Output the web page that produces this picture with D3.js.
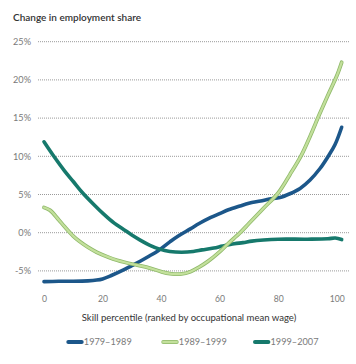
<!DOCTYPE html>
<html>
<head>
<meta charset="utf-8">
<script src="https://cdn.jsdelivr.net/npm/d3@7"></script>
<style>
  html, body { margin: 0; padding: 0; background: #fff; }
  svg { display: block; }
  text { font-family: Lato, "Open Sans", sans-serif; }
</style>
</head>
<body>
<svg id="chart" width="356" height="364"></svg>
<script>
// ---- data ----
const seriesNames = ["1979–1989", "1989–1999", "1999–2007"];
const xTicks = [0, 20, 40, 60, 80, 100];
const yTicks = [25, 20, 15, 10, 5, 0, -5];
const yTickLabels = ["25%", "20%", "15%", "10%", "5%", "0%", "-5%"];

const pct1979 = [0, 5, 10, 15, 18, 20, 23, 27, 30, 33, 36, 39, 43, 46, 50, 53, 57, 60, 63, 67, 70, 74, 77, 80.6, 84, 87.5, 90.9, 94.3, 97.1, 99.4, 101.7];
const val1979 = [-6.4, -6.35, -6.35, -6.3, -6.2, -6.05, -5.6, -4.9, -4.3, -3.7, -3.05, -2.35, -1.2, -0.4, 0.5, 1.2, 2.0, 2.5, 3.0, 3.5, 3.85, 4.15, 4.4, 4.6, 5.1, 5.8, 6.9, 8.4, 10.0, 11.5, 13.8];

const pct1989 = [0, 2, 5, 7, 10, 12, 15, 18, 22, 25, 30, 35, 40, 43, 47, 50, 53, 56, 60, 63, 67, 70, 75, 80, 84, 88, 91, 94, 97, 100, 101.7];
const val1989 = [3.3, 2.95, 1.7, 0.8, -0.45, -1.1, -1.9, -2.55, -3.2, -3.6, -4.1, -4.5, -5.1, -5.35, -5.4, -5.1, -4.5, -3.75, -2.5, -1.4, 0.0, 1.2, 3.2, 5.2, 7.6, 10.2, 12.7, 15.4, 18.0, 20.5, 22.3];

const pct1999 = [0, 3, 7, 10, 13, 17, 20.5, 24, 27.3, 30, 33, 36.2, 39.5, 43, 47, 51, 54, 58, 61, 65, 68, 71, 75, 80, 90, 97, 99.5, 101.7];
const val1999 = [11.9, 10.2, 8.1, 6.7, 5.3, 3.7, 2.4, 1.25, 0.4, -0.3, -1.0, -1.65, -2.15, -2.45, -2.55, -2.45, -2.25, -2.0, -1.75, -1.45, -1.3, -1.1, -0.95, -0.85, -0.85, -0.8, -0.7, -0.9];

// ---- layout ----
const svg = d3.select("#chart");
const x = d3.scaleLinear().domain([0, 100]).range([44, 336.7]);
const y = d3.scaleLinear().domain([-5, 25]).range([270.9, 41.7]);

const colBlue = "#1c578a", colTeal = "#16796c", colGreenEdge = "#8fb96a", colGreenFill = "#c3e09c";

function fit(sel, target) {
  const base = 10;
  sel.style("font-size", base + "px");
  const w = sel.node().getComputedTextLength();
  return base * target / w;
}

// gridlines
svg.append("g").selectAll("line").data(yTicks).join("line")
  .attr("x1", 38).attr("x2", 350)
  .attr("y1", d => y(d)).attr("y2", d => y(d))
  .attr("stroke", "#9a9a9a").attr("stroke-width", 1)
  .attr("stroke-dasharray", "1,1");

// title
const title = svg.append("text").attr("x", 13).attr("y", 21)
  .attr("fill", "#333").attr("font-weight", 600)
  .text("Change in employment share");
title.style("font-size", fit(title, 128) + "px");

// y tick labels
const yl = svg.append("g").selectAll("text").data(yTicks).join("text")
  .attr("x", 31).attr("y", d => y(d)).attr("dy", "0.35em")
  .attr("text-anchor", "end").attr("fill", "#7a7a7a")
  .text((d, i) => yTickLabels[i]);
const ySize = fit(d3.select(yl.nodes()[0]), 18);
yl.style("font-size", ySize + "px");

// x axis (labels only)
const xAxis = d3.axisBottom(x).tickValues(xTicks).tickSize(0).tickPadding(0);
const xg = svg.append("g").attr("transform", "translate(0,295.5)").call(xAxis);
xg.select(".domain").remove();
xg.selectAll("text").attr("fill", "#7a7a7a").attr("dy", "0.71em")
  .style("font-family", 'Lato, "Open Sans", sans-serif');
const xSize = fit(d3.select(xg.selectAll("text").nodes()[5]), 15);
xg.selectAll("text").style("font-size", xSize + "px");

const xt = svg.append("text").attr("x", 189).attr("y", 320.5)
  .attr("text-anchor", "middle").attr("fill", "#333")
  .text("Skill percentile (ranked by occupational mean wage)");
xt.style("font-size", fit(xt, 215) + "px");

// lines
const line = d3.line().x(d => x(d[0])).y(d => y(d[1])).curve(d3.curveCatmullRom.alpha(0.5));
const zip = (a, b) => a.map((v, i) => [v, b[i]]);
const g = svg.append("g").attr("fill", "none").attr("stroke-linecap", "round").attr("stroke-linejoin", "round");
g.append("path").attr("d", line(zip(pct1979, val1979))).attr("stroke", colBlue).attr("stroke-width", 3.6);
g.append("path").attr("d", line(zip(pct1999, val1999))).attr("stroke", colTeal).attr("stroke-width", 3.6);
g.append("path").attr("d", line(zip(pct1989, val1989))).attr("stroke", colGreenEdge).attr("stroke-width", 3.8);
g.append("path").attr("d", line(zip(pct1989, val1989))).attr("stroke", colGreenFill).attr("stroke-width", 2.2);

// legend
const legendX = [68.3, 163.3, 255];
const legendCols = [colBlue, null, colTeal];
const lg = svg.append("g");
let lSize = null;
seriesNames.forEach((name, i) => {
  const gx = legendX[i];
  if (i === 1) {
    lg.append("line").attr("x1", gx).attr("x2", gx + 13.4).attr("y1", 342).attr("y2", 342)
      .attr("stroke", colGreenEdge).attr("stroke-width", 4).attr("stroke-linecap", "round");
    lg.append("line").attr("x1", gx).attr("x2", gx + 13.4).attr("y1", 342).attr("y2", 342)
      .attr("stroke", colGreenFill).attr("stroke-width", 2.4).attr("stroke-linecap", "round");
  } else {
    lg.append("line").attr("x1", gx).attr("x2", gx + 13.4).attr("y1", 342).attr("y2", 342)
      .attr("stroke", legendCols[i]).attr("stroke-width", 4).attr("stroke-linecap", "round");
  }
  const t = lg.append("text").attr("x", gx + 15.5).attr("y", 342).attr("dy", "0.35em")
    .attr("fill", "#7a7a7a").text(name);
  if (lSize === null) lSize = fit(t, 48);
  t.style("font-size", lSize + "px");
});
</script>
</body>
</html>
